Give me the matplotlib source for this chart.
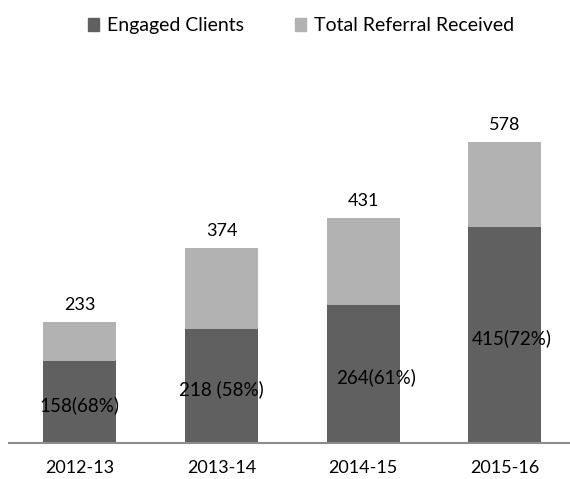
import matplotlib
matplotlib.use("Agg")
import matplotlib.pyplot as plt
import numpy as np
from matplotlib.patches import Patch

years = ["2012-13", "2013-14", "2014-15", "2015-16"]
engaged = [158, 218, 264, 415]
total = [233, 374, 431, 578]
engaged_labels = ["158(68%)", "218 (58%)", "264(61%)", "415(72%)"]

dark = "#606060"
light = "#b2b2b2"

plt.rcParams["font.family"] = ["Lato", "DejaVu Sans"]

fig = plt.figure(figsize=(5.7, 4.79), dpi=100)
ax = fig.add_axes([9 / 570, 36 / 479, 561 / 570, 365 / 479])

x = np.arange(len(years))
rest = [t - e for t, e in zip(total, engaged)]
ax.bar(x, engaged, width=0.515, color=dark)
ax.bar(x, rest, bottom=engaged, width=0.515, color=light)

# labels inside the dark part and totals above
nudge = [0, 0, 13, 7]
for i in range(len(years)):
    ax.annotate(engaged_labels[i], (x[i], engaged[i] / 2), xytext=(nudge[i], -3),
                textcoords="offset pixels", ha="center", va="center", fontsize=13.5)
    ax.annotate(str(total[i]), (x[i], total[i]), xytext=(0, 17),
                textcoords="offset pixels", ha="center", va="center", fontsize=13)

ax.set_xlim(-0.5, 3.46)
ax.set_ylim(0, 700)
ax.set_xticks(x)
ax.set_xticklabels(years, fontsize=13)
ax.tick_params(axis="x", length=0, pad=12)
ax.set_yticks([])
for s in ["top", "right", "left"]:
    ax.spines[s].set_visible(False)
ax.spines["bottom"].set_color("#8c8c8c")
ax.spines["bottom"].set_linewidth(1.5)

handles = [Patch(color=dark), Patch(color=light)]
fig.legend(handles, ["Engaged Clients", "Total Referral Received"],
           loc="center", bbox_to_anchor=(0.528, 0.946), ncol=2, frameon=False,
           fontsize=14, handlelength=0.6, handleheight=0.6, handletextpad=0.4,
           columnspacing=2.6)

fig.savefig("out.png", dpi=100)
